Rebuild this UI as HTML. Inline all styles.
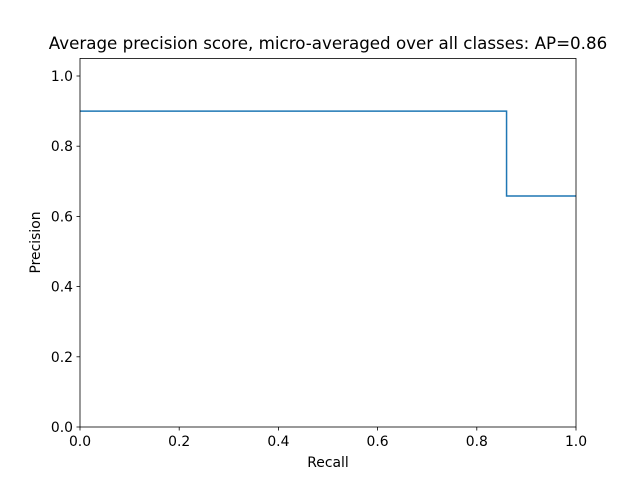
<!DOCTYPE html>
<html><head><meta charset="utf-8"><style>
body{margin:0;background:#fff;}
svg{display:block;font-family:"DejaVu Sans","Liberation Sans",sans-serif;}
</style></head><body>
<svg id="chart" width="640" height="480">
<rect width="640" height="480" fill="#fff"/>
<text x="328" y="49" font-size="16.7" text-anchor="middle">Average precision score, micro-averaged over all classes: AP=0.86</text>
<g id="axes"></g>
<text x="328" y="467" font-size="13.9" text-anchor="middle">Recall</text>
<text transform="translate(40,242.5) rotate(-90)" font-size="13.9" text-anchor="middle">Precision</text>
</svg>
<script>
const recall = [0, 0.86, 0.86, 1.0];
const precision = [0.9, 0.9, 0.658, 0.658];
const xTicks = [0, 0.2, 0.4, 0.6, 0.8, 1.0];
const yTicks = [0, 0.2, 0.4, 0.6, 0.8, 1.0];
const xTickLabels = ["0.0","0.2","0.4","0.6","0.8","1.0"];
const yTickLabels = ["0.0","0.2","0.4","0.6","0.8","1.0"];

const L=80,R=576,T=58.45,B=427;
const xs=v=>L+(v-0)/(1-0)*(R-L);
const ys=v=>B-(v-0)/(1.05-0)*(B-T);
const NS="http://www.w3.org/2000/svg";
const g=document.getElementById('axes');
function mk(tag,attrs){const e=document.createElementNS(NS,tag);for(const k in attrs)e.setAttribute(k,attrs[k]);g.appendChild(e);return e;}

let d='';
recall.forEach((r,i)=>{d+=(i?'L':'M')+xs(r)+','+ys(precision[i]);});
const line=mk('path',{d:d,fill:'none',stroke:'#1f77b4','stroke-width':1.5});



xTicks.forEach((v,i)=>{
  const t=mk('line',{x1:xs(v),x2:xs(v),y1:B,y2:B+3.5,stroke:'#000','stroke-width':0.8});
  
  
  const tx=mk('text',{x:xs(v),y:B+19,'font-size':13.9,'text-anchor':'middle'});
  tx.textContent=xTickLabels[i];
  
  
});
yTicks.forEach((v,i)=>{
  const t=mk('line',{x1:L-3.5,x2:L,y1:ys(v),y2:ys(v),stroke:'#000','stroke-width':0.8});
  
  
  const tx=mk('text',{x:L-7,y:ys(v)+5,'font-size':13.9,'text-anchor':'end'});
  tx.textContent=yTickLabels[i];
  
  
});
const frame=mk('rect',{x:L,y:T,width:R-L,height:B-T,fill:'none',stroke:'#000','stroke-width':0.8});


</script>
</body></html>
